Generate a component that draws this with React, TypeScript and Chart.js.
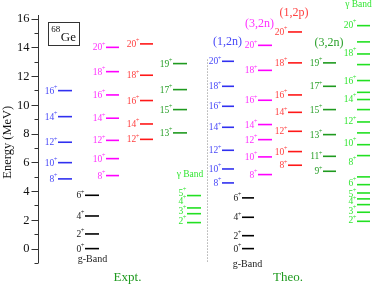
import React, { useEffect, useRef } from 'react';
import { Chart, registerables } from 'chart.js';
Chart.register(...registerables);

const SERIF = '"Liberation Serif","Times New Roman",serif';

// ---- Data (energies in MeV) ----
const exptBlueSpins = ['8', '10', '12', '14', '16'];
const exptBlueE = [4.85, 5.98, 7.4, 9.18, 10.99];

const exptGSpins = ['0', '2', '4', '6'];
const exptGE = [0.0, 1.02, 2.27, 3.71];

const exptMagSpins = ['8', '10', '12', '14', '16', '18', '20'];
const exptMagE = [5.08, 6.26, 7.53, 9.07, 10.69, 12.31, 14.0];

const exptRedSpins = ['12', '14', '16', '18', '20'];
const exptRedE = [7.6, 8.67, 10.3, 12.06, 14.24];

const exptGreenSpins = ['13', '15', '17', '19'];
const exptGreenE = [8.05, 9.67, 11.06, 12.87];

const exptGammaSpins = ['2', '3', '4', '5'];
const exptGammaE = [1.81, 2.43, 2.83, 3.69];
const exptGammaLabelE = [1.95, 2.64, 3.34, 3.9];

const theoBlueSpins = ['8', '10', '12', '14', '16', '18', '20'];
const theoBlueE = [4.57, 5.54, 6.84, 8.44, 9.9, 11.29, 13.03];

const theoGSpins = ['0', '2', '4', '6'];
const theoGE = [0.0, 0.9, 2.18, 3.53];

const theoMagSpins = ['8', '10', '12', '14', '16', '18', '20'];
const theoMagE = [5.15, 6.38, 7.58, 8.63, 10.32, 12.4, 14.14];

const theoRedSpins = ['8', '10', '12', '14', '16', '18', '20'];
const theoRedE = [5.8, 6.75, 8.16, 9.48, 10.69, 12.92, 15.07];

const theoGreenSpins = ['9', '11', '13', '15', '17', '19'];
const theoGreenE = [5.38, 6.42, 7.93, 9.67, 11.29, 12.92];

const theoGammaE = [1.9, 2.53, 3.06, 3.46, 3.87, 4.45, 4.99, 6.47, 7.23, 8.05, 8.81, 9.67, 10.37, 10.87, 11.69, 12.8, 13.54, 14.38, 15.51];
const theoGammaLabelSpins = ['2', '3', '4', '5', '6', '8', '10', '12', '14', '16', '18', '20'];
const theoGammaLabelE = [1.97, 2.64, 3.29, 3.81, 4.57, 6.05, 7.35, 8.86, 10.41, 11.69, 13.61, 15.58];

const yTickValues = [-1, 0, 1, 2, 3, 4, 5, 6, 7, 8, 9, 10, 11, 12, 13, 14, 15, 16];
const yTickLabels = ['0', '2', '4', '6', '8', '10', '12', '14', '16'];

// ---- Layout (x in px from the axis) ----
type Band = {
  energies: number[];
  spins: string[];
  labelE?: number[];
  x0: number;
  x1: number;
  color: string;
  text: string;
};

const BLUE = '#3030f0';
const BLUE_T = '#4848f8';
const MAG = '#ff00ff';
const MAG_T = '#ff30ff';
const RED = '#ff1818';
const RED_T = '#ff4040';
const DGREEN = '#1f9a1f';
const DGREEN_T = '#2aa02a';
const LGREEN = '#22e022';
const LGREEN_T = '#33e633';

const bands: Band[] = [
  { energies: exptBlueE, spins: exptBlueSpins, x0: 20, x1: 34, color: BLUE, text: BLUE_T },
  { energies: exptGE, spins: exptGSpins, x0: 47, x1: 61, color: '#000', text: '#222' },
  { energies: exptMagE, spins: exptMagSpins, x0: 68, x1: 81, color: MAG, text: MAG_T },
  { energies: exptRedE, spins: exptRedSpins, x0: 102, x1: 115, color: RED, text: RED_T },
  { energies: exptGreenE, spins: exptGreenSpins, x0: 135, x1: 149, color: DGREEN, text: DGREEN_T },
  { energies: exptGammaE, spins: exptGammaSpins, labelE: exptGammaLabelE, x0: 149, x1: 163, color: LGREEN, text: LGREEN_T },
  { energies: theoBlueE, spins: theoBlueSpins, x0: 184, x1: 196, color: BLUE, text: BLUE_T },
  { energies: theoGE, spins: theoGSpins, x0: 204, x1: 216, color: '#000', text: '#222' },
  { energies: theoMagE, spins: theoMagSpins, x0: 220, x1: 234, color: MAG, text: MAG_T },
  { energies: theoRedE, spins: theoRedSpins, x0: 250, x1: 264, color: RED, text: RED_T },
  { energies: theoGreenE, spins: theoGreenSpins, x0: 285, x1: 298, color: DGREEN, text: DGREEN_T },
  { energies: theoGammaE, spins: theoGammaLabelSpins, labelE: theoGammaLabelE, x0: 319, x1: 332, color: LGREEN, text: LGREEN_T },
];

type Note = { t: string; x: number; e: number; size: number; color: string };
const notes: Note[] = [
  { t: 'g-Band', x: 54.5, e: -0.77, size: 10, color: '#222' },
  { t: 'g-Band', x: 209.5, e: -1.1, size: 10, color: '#222' },
  { t: 'Expt.', x: 89.5, e: -2.0, size: 13, color: '#1f9a1f' },
  { t: 'Theo.', x: 250, e: -2.0, size: 13, color: '#1f9a1f' },
  { t: 'γ Band', x: 152, e: 5.15, size: 9.5, color: LGREEN_T },
  { t: '(1,2n)', x: 189.5, e: 14.38, size: 12, color: BLUE_T },
  { t: '(3,2n)', x: 221.5, e: 15.63, size: 12, color: MAG_T },
  { t: '(1,2p)', x: 256, e: 16.4, size: 12, color: RED_T },
  { t: '(3,2n)', x: 291, e: 14.31, size: 12, color: DGREEN_T },
  { t: 'γ Band', x: 320.5, e: 17.0, size: 9.5, color: LGREEN_T },
];

const drawPlugin = {
  id: 'levelText',
  afterDraw(chart: any) {
    const { ctx, scales, chartArea } = chart;
    const xs = scales.x;
    const ys = scales.y;
    const px = (v: number) => xs.getPixelForValue(v);
    const py = (v: number) => ys.getPixelForValue(v);
    ctx.save();

    // axis line and ticks
    const ax = chartArea.left + 0.5;
    ctx.strokeStyle = '#333';
    ctx.lineWidth = 1;
    ctx.beginPath();
    ctx.moveTo(ax, chartArea.top);
    ctx.lineTo(ax, chartArea.bottom);
    yTickValues.forEach((v) => {
      const y = Math.round(py(v)) + 0.5;
      const major = v % 2 === 0;
      ctx.moveTo(ax, y);
      ctx.lineTo(ax - (major ? 7 : 4), y);
    });
    ctx.stroke();
    ctx.fillStyle = '#111';
    ctx.font = `12.5px ${SERIF}`;
    ctx.textAlign = 'right';
    ctx.textBaseline = 'middle';
    yTickLabels.forEach((lab) => {
      ctx.fillText(lab, ax - 9, py(Number(lab)) + 0.5);
    });

    // axis title
    ctx.save();
    ctx.translate(8, py(7.4));
    ctx.rotate(-Math.PI / 2);
    ctx.textAlign = 'center';
    ctx.textBaseline = 'middle';
    ctx.font = `12.5px ${SERIF}`;
    ctx.fillText('Energy (MeV)', 0, 0);
    ctx.restore();

    // level labels
    bands.forEach((b) => {
      b.spins.forEach((s, i) => {
        const e = b.labelE ? b.labelE[i] : b.energies[i];
        const xr = px(b.x0) - 0.5;
        const y = py(e);
        ctx.fillStyle = b.text;
        ctx.textAlign = 'right';
        ctx.textBaseline = 'alphabetic';
        ctx.font = `6.5px ${SERIF}`;
        const pw = ctx.measureText('+').width;
        ctx.fillText('+', xr, y - 1.5);
        ctx.font = `9.5px ${SERIF}`;
        ctx.fillText(s, xr - pw + 0.5, y + 3);
      });
    });

    // notes
    notes.forEach((n) => {
      ctx.fillStyle = n.color;
      ctx.font = `${n.size}px ${SERIF}`;
      ctx.textAlign = 'center';
      ctx.textBaseline = 'middle';
      ctx.fillText(n.t, px(n.x), py(n.e));
    });

    // 68Ge box
    const bx0 = px(10.3), bx1 = px(41.3), by0 = py(15.77), by1 = py(14.19);
    ctx.strokeStyle = '#333';
    ctx.lineWidth = 1;
    ctx.strokeRect(Math.round(bx0) + 0.5, Math.round(by0) + 0.5, Math.round(bx1 - bx0), Math.round(by1 - by0));
    ctx.fillStyle = '#111';
    ctx.textAlign = 'left';
    ctx.textBaseline = 'alphabetic';
    ctx.font = `9px ${SERIF}`;
    ctx.fillText('68', bx0 + 3, by0 + 10);
    ctx.font = `13px ${SERIF}`;
    ctx.fillText('Ge', bx0 + 12.5, by1 - 4);

    ctx.restore();
  },
};

export default function App() {
  const ref = useRef<HTMLCanvasElement | null>(null);
  useEffect(() => {
    if (!ref.current) return;
    const datasets: any[] = [];
    bands.forEach((b) => {
      b.energies.forEach((e) => {
        datasets.push({
          data: [
            { x: b.x0, y: e },
            { x: b.x1, y: e },
          ],
          borderColor: b.color,
          borderWidth: 1.6,
          pointRadius: 0,
          showLine: true,
        });
      });
    });
    datasets.push({
      data: [
        { x: 169.5, y: 13.15 },
        { x: 169.5, y: -0.9 },
      ],
      borderColor: '#888',
      borderWidth: 1,
      borderDash: [1, 2],
      pointRadius: 0,
      showLine: true,
    });
    const chart = new Chart(ref.current, {
      type: 'scatter',
      data: { datasets },
      options: {
        animation: false,
        responsive: false,
        events: [],
        layout: { padding: { left: 38, right: 0, top: 15, bottom: 22 } },
        plugins: { legend: { display: false }, tooltip: { enabled: false } },
        scales: {
          x: { type: 'linear', min: 0, max: 336, display: false },
          y: { type: 'linear', min: -1, max: 16.25, display: false },
        },
      },
      plugins: [drawPlugin],
    });
    return () => chart.destroy();
  }, []);
  return (
    <div style={{ position: 'fixed', left: 0, top: 0, width: 374, height: 285, background: '#fff' }}>
      <canvas ref={ref} width={374} height={285} style={{ width: 374, height: 285, display: 'block' }} />
    </div>
  );
}
